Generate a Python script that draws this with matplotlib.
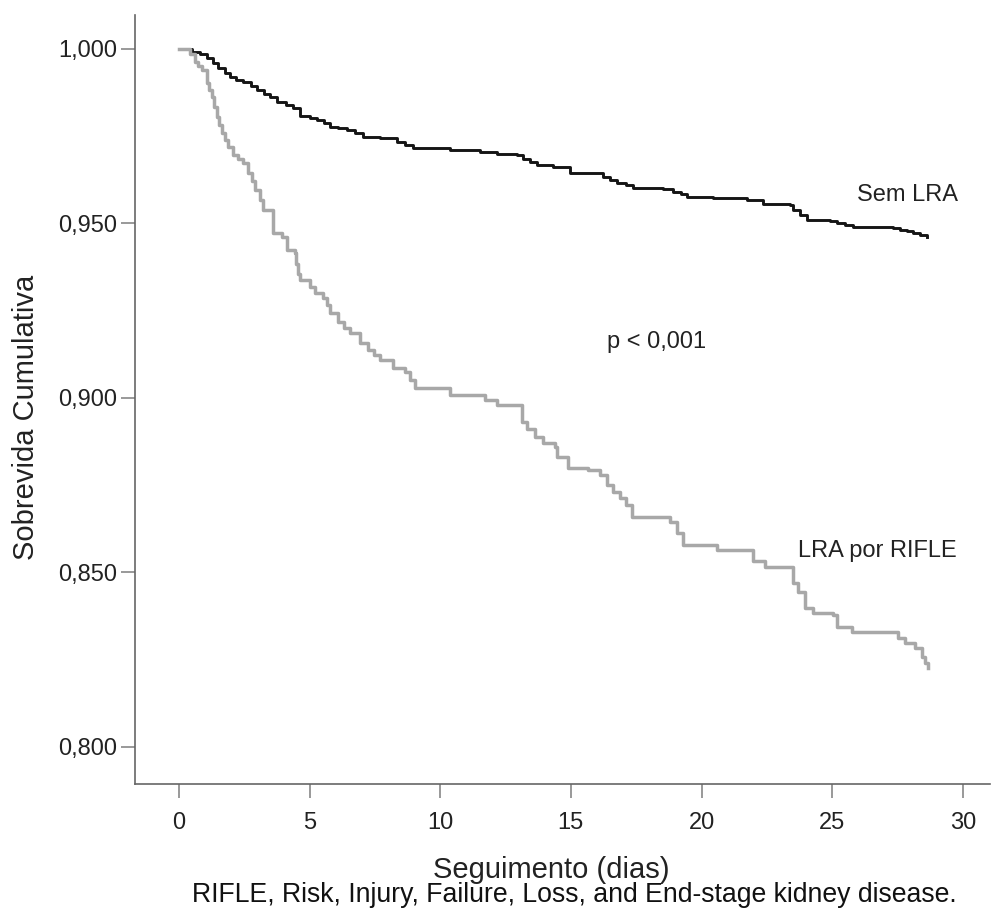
import matplotlib
matplotlib.use("Agg")
import matplotlib.pyplot as plt

plt.rcParams['font.family'] = ['Liberation Sans', 'DejaVu Sans']

# Kaplan-Meier steps: (day of drop, survival after drop)
sem_t = [0.0, 0.50, 0.80, 1.06, 1.30, 1.49, 1.75, 1.95, 2.20, 2.45, 2.75, 2.99,
         3.25, 3.48, 3.75, 4.10, 4.36, 4.63, 5.00, 5.28, 5.55, 5.78, 6.10, 6.43,
         6.75, 7.04, 7.69, 8.34, 8.65, 8.96, 10.37, 11.52, 12.17, 12.94, 13.16,
         13.45, 13.70, 14.31, 14.96, 16.23, 16.50, 16.76, 17.10, 17.37, 18.52,
         18.91, 19.20, 19.44, 20.44, 21.74, 22.35, 23.38, 23.50, 23.75, 24.03,
         24.91, 25.18, 25.50, 25.79, 27.32, 27.59, 27.85, 28.09, 28.35, 28.63]
sem_s = [1.0000, 0.9992, 0.9984, 0.9973, 0.9960, 0.9946, 0.9932, 0.9920, 0.9912,
         0.9905, 0.9893, 0.9882, 0.9872, 0.9862, 0.9848, 0.9840, 0.9831, 0.9808,
         0.9802, 0.9797, 0.9787, 0.9777, 0.9772, 0.9768, 0.9758, 0.9748, 0.9745,
         0.9734, 0.9725, 0.9716, 0.9711, 0.9705, 0.9699, 0.9696, 0.9685, 0.9676,
         0.9668, 0.9662, 0.9645, 0.9633, 0.9625, 0.9616, 0.9609, 0.9602, 0.9599,
         0.9590, 0.9583, 0.9576, 0.9573, 0.9567, 0.9556, 0.9553, 0.9539, 0.9525,
         0.9510, 0.9507, 0.9501, 0.9495, 0.9490, 0.9486, 0.9481, 0.9477, 0.9473,
         0.9467, 0.9461]

lra_t = [0.0, 0.42, 0.61, 0.75, 0.88, 1.07, 1.17, 1.26, 1.36, 1.45, 1.55, 1.65,
         1.78, 1.88, 2.07, 2.25, 2.45, 2.64, 2.78, 2.91, 3.10, 3.21, 3.60, 3.94,
         4.13, 4.44, 4.50, 4.55, 4.63, 5.01, 5.20, 5.51, 5.65, 5.78, 6.09, 6.30,
         6.54, 6.93, 7.23, 7.45, 7.69, 8.19, 8.65, 8.85, 9.03, 10.37, 11.71, 12.17,
         13.13, 13.32, 13.62, 13.93, 14.39, 14.47, 14.89, 15.65, 16.11, 16.38,
         16.62, 16.88, 17.10, 17.34, 18.79, 19.06, 19.29, 20.59, 21.97, 22.43,
         23.50, 23.69, 23.96, 24.26, 25.03, 25.18, 25.76, 27.52, 27.78, 28.17,
         28.43, 28.55, 28.66]
lra_s = [1.0000, 0.9985, 0.9963, 0.9952, 0.9940, 0.9903, 0.9882, 0.9862, 0.9834,
         0.9805, 0.9782, 0.9759, 0.9740, 0.9719, 0.9696, 0.9685, 0.9673, 0.9645,
         0.9620, 0.9596, 0.9567, 0.9539, 0.9473, 0.9461, 0.9424, 0.9415, 0.9385,
         0.9355, 0.9338, 0.9318, 0.9301, 0.9287, 0.9265, 0.9244, 0.9218, 0.9200,
         0.9186, 0.9158, 0.9138, 0.9122, 0.9109, 0.9086, 0.9075, 0.9050, 0.9029,
         0.9009, 0.8994, 0.8980, 0.8931, 0.8910, 0.8888, 0.8871, 0.8860, 0.8831,
         0.8799, 0.8794, 0.8779, 0.8751, 0.8730, 0.8713, 0.8693, 0.8659, 0.8645,
         0.8613, 0.8579, 0.8564, 0.8533, 0.8516, 0.8470, 0.8444, 0.8398, 0.8384,
         0.8378, 0.8344, 0.8330, 0.8312, 0.8298, 0.8284, 0.8258, 0.8240, 0.8226]

x_ticks = [0, 5, 10, 15, 20, 25, 30]
y_ticks = [0.80, 0.85, 0.90, 0.95, 1.00]
y_labels = ['0,800', '0,850', '0,900', '0,950', '1,000']

fig = plt.figure(figsize=(9.97, 9.08), dpi=100)
ax = fig.add_axes([0.1354, 0.1366, 0.8576, 0.8469])

ax.step(sem_t, sem_s, where='post', color='#151515', lw=2.1, zorder=2)
ax.step(lra_t, lra_s, where='post', color='#a8a8a8', lw=2.5, zorder=3)

ax.set_xlim(-1.68, 31.04)
ax.set_ylim(0.7894, 1.0097)
ax.set_xticks(x_ticks)
ax.set_yticks(y_ticks)
ax.set_yticklabels(y_labels)

for side in ['top', 'right']:
    ax.spines[side].set_visible(False)
for side in ['left', 'bottom']:
    ax.spines[side].set_color('#666666')
    ax.spines[side].set_linewidth(1.2)

ax.tick_params(axis='x', direction='out', length=10, width=1.2, color='#888888',
               pad=10, labelsize=17, labelcolor='#222222')
ax.tick_params(axis='y', direction='out', length=10, width=1.2, color='#888888',
               pad=3, labelsize=17, labelcolor='#222222')

ax.set_ylabel('Sobrevida Cumulativa', fontsize=21, color='#222222')
ax.yaxis.set_label_coords(-0.111, 0.477)
ax.set_xlabel('Seguimento (dias)', fontsize=21, color='#222222')
ax.xaxis.set_label_coords(0.4865, -0.094)

ax.text(25.95, 0.9580, 'Sem LRA', fontsize=17, color='#222222', va='center')
ax.text(23.69, 0.8562, 'LRA por RIFLE', fontsize=17, color='#222222', va='center')
ax.text(16.38, 0.9160, 'p < 0,001', fontsize=17, color='#222222', va='center')

fig.text(0.576, 1 - 895 / 908, 'RIFLE, Risk, Injury, Failure, Loss, and End-stage kidney disease.',
         fontsize=19.2, color='#111111', ha='center', va='center')

fig.savefig('out.png', dpi=100)
